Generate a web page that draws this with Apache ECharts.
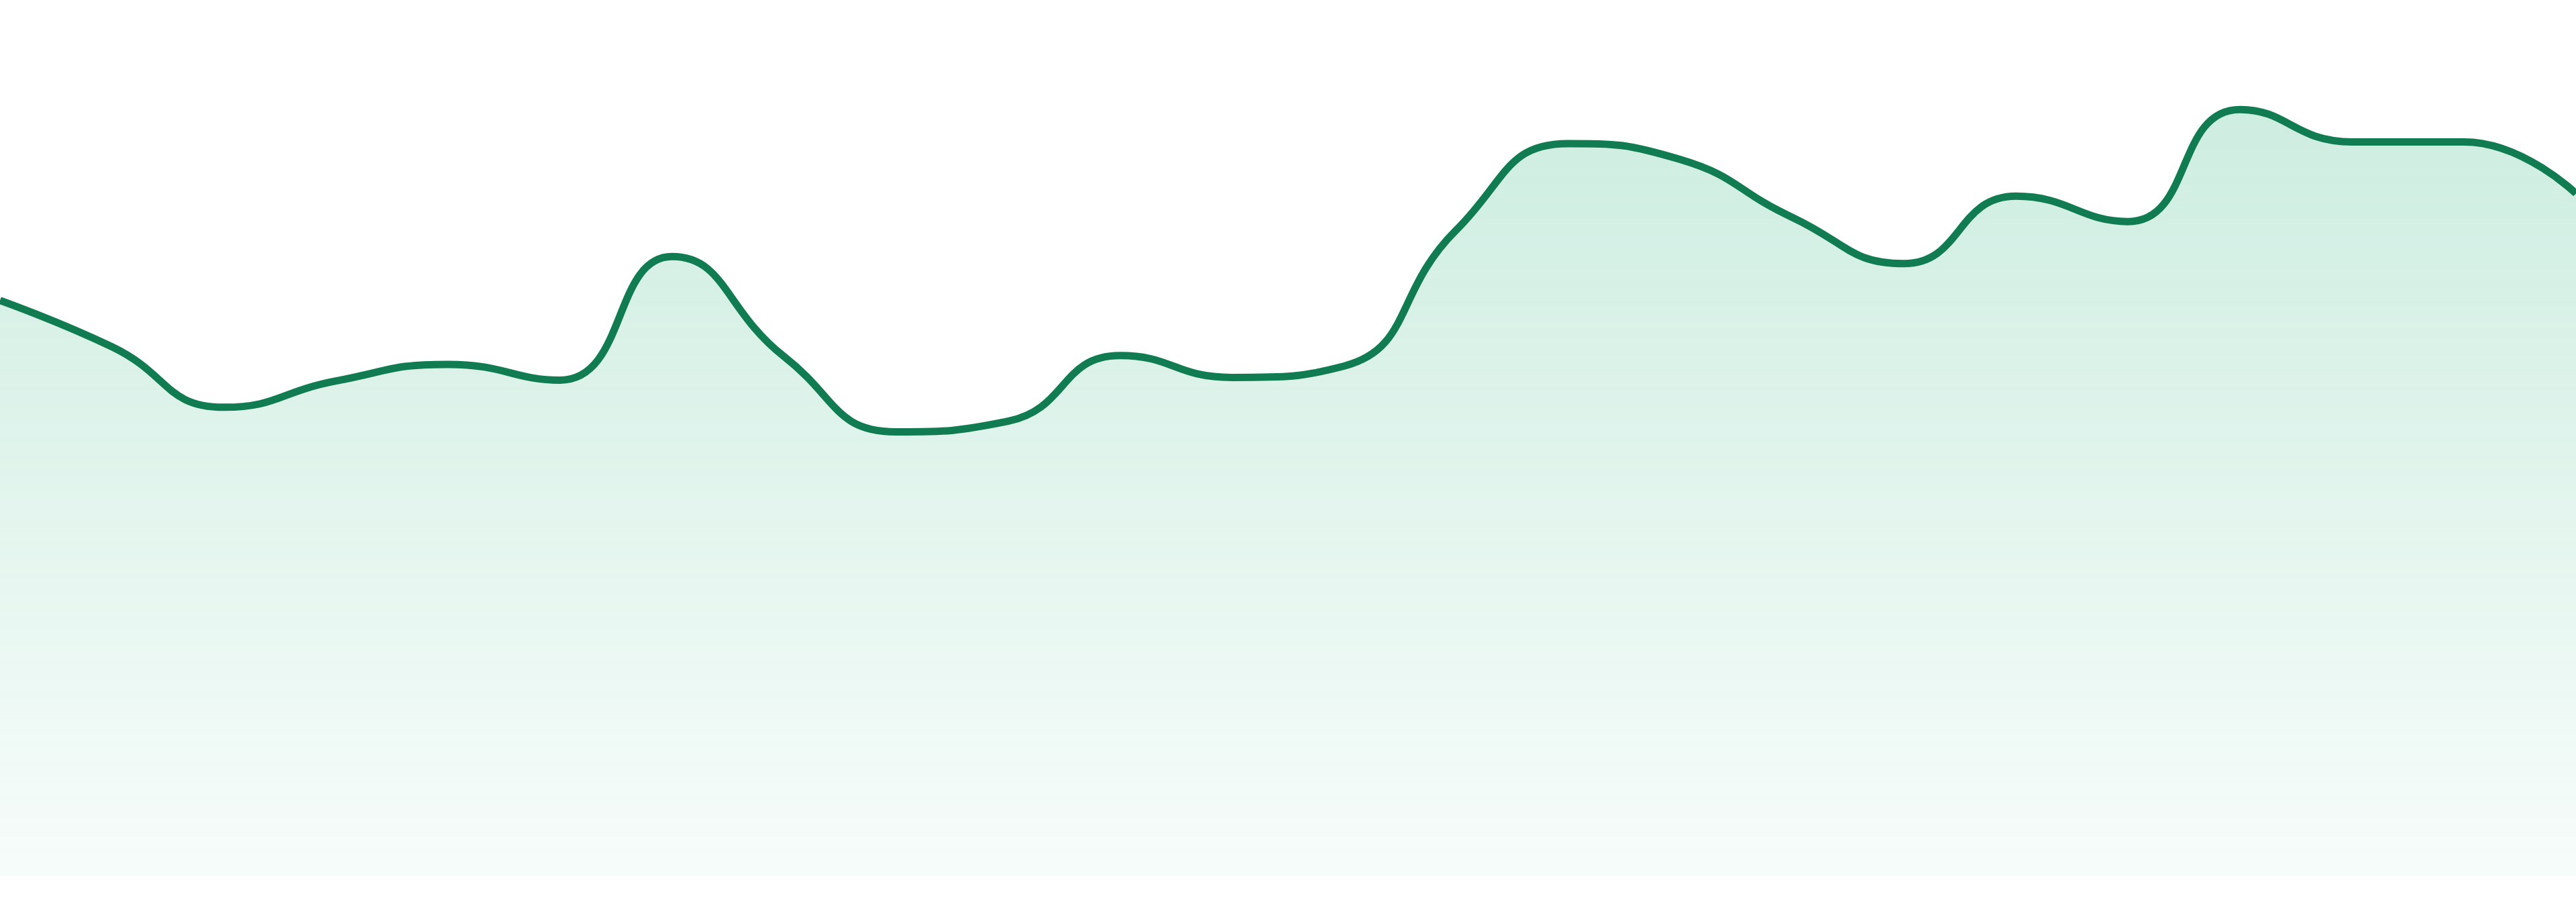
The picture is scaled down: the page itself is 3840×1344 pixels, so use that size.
<!DOCTYPE html>
<html>
<head>
<meta charset="utf-8">
<title>Area trend</title>
<script src="https://cdn.jsdelivr.net/npm/echarts@6/dist/echarts.min.js"></script>
<style>
  html, body { margin: 0; padding: 0; background: #ffffff; overflow: hidden; }
  #main { width: 100vw; height: 100vh; }
</style>
</head>
<body>
<div id="main"></div>
<script>
// x categories (24 steps, no labels shown in the picture)
var categories = ['1', '2', '3', '4', '5', '6', '7', '8', '9', '10', '11', '12',
                  '13', '14', '15', '16', '17', '18', '19', '20', '21', '22', '23', '24'];

// series values (axis 0..100)
var values = [65.7, 60.4, 53.5, 56.5, 58.4, 56.6, 70.7, 59.3, 50.7, 51.9, 59.4, 56.9,
              58.2, 73.7, 83.6, 81.8, 75.2, 69.9, 77.6, 74.7, 87.5, 83.8, 83.8, 77.9];

var yMin = 0;
var yMax = 100;

var myChart = echarts.init(document.getElementById('main'));

var option = {
    animation: false,
    grid: { left: 0, right: 0, top: 0, bottom: '2.9%' },
    xAxis: {
        type: 'category',
        data: categories,
        boundaryGap: false,
        show: false
    },
    yAxis: {
        type: 'value',
        min: yMin,
        max: yMax,
        show: false
    },
    series: [{
        type: 'line',
        data: values,
        smooth: true,
        showSymbol: true,
        symbol: 'circle',
        symbolSize: 30,
        lineStyle: { color: '#117c52', width: 11 },
        itemStyle: { color: '#117c52', opacity: 0 },
        areaStyle: {
            color: new echarts.graphic.LinearGradient(0, 0, 0, 1, [
                { offset: 0, color: 'rgba(20,170,110,0.30)' },
                { offset: 1, color: 'rgba(20,170,110,0.05)' }
            ])
        }
    }]
};

myChart.setOption(option);
</script>
</body>
</html>
